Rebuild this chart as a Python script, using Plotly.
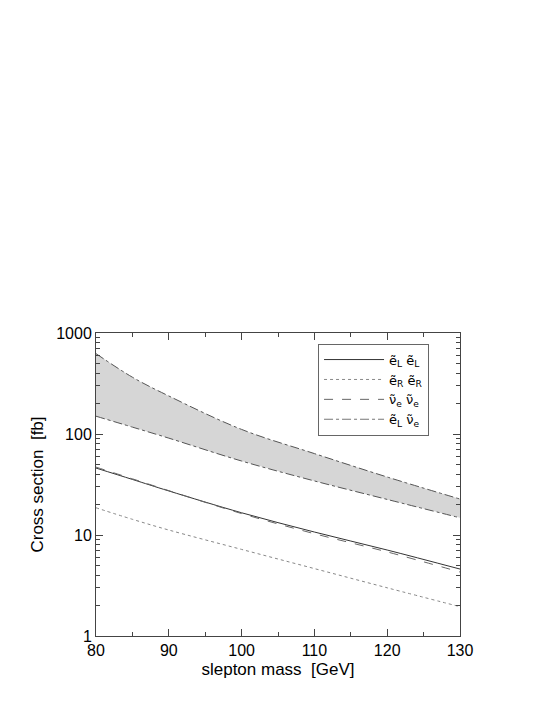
import plotly.graph_objects as go

# slepton mass grid [GeV]
masses = [80, 85, 90, 100, 110, 120, 130]

# cross sections [fb]
eL_eL = [46.0, 35.5, 27.3, 16.6, 10.7, 7.1, 4.6]
eR_eR = [18.6, 14.3, 11.2, 7.2, 4.65, 3.0, 1.95]
nu_nu = [47.0, 36.0, 27.5, 16.3, 10.3, 6.8, 4.3]
eL_nu_low = [150.0, 117.0, 91.0, 54.0, 34.3, 22.5, 14.8]
eL_nu_high = [625.0, 365.0, 238.0, 111.0, 64.0, 37.5, 22.7]

x_ticks = [80, 90, 100, 110, 120, 130]
y_ticks = [1, 10, 100, 1000]

fig = go.Figure()

# shaded band for eL nu_e, drawn with dash-dot edges
fig.add_trace(go.Scatter(
    x=masses, y=eL_nu_low, mode='lines', line_shape='spline',
    line=dict(color='#555555', width=1, dash='dashdot'),
    showlegend=False, hoverinfo='skip'
))
fig.add_trace(go.Scatter(
    x=masses, y=eL_nu_high, mode='lines', line_shape='spline',
    line=dict(color='#555555', width=1, dash='dashdot'),
    fill='tonexty', fillcolor='#d6d6d6',
    showlegend=False, hoverinfo='skip'
))

fig.add_trace(go.Scatter(
    x=masses, y=eL_eL, mode='lines', line_shape='spline',
    name='ẽ<sub>L</sub> ẽ<sub>L</sub>',
    line=dict(color='#333333', width=1)
))
fig.add_trace(go.Scatter(
    x=masses, y=eR_eR, mode='lines', line_shape='spline',
    name='ẽ<sub>R</sub> ẽ<sub>R</sub>',
    line=dict(color='#888888', width=1, dash='dot')
))
fig.add_trace(go.Scatter(
    x=masses, y=nu_nu, mode='lines', line_shape='spline',
    name='ν̃<sub>e</sub> ν̃<sub>e</sub>',
    line=dict(color='#666666', width=1, dash='dash')
))
# legend entry only for the dash-dot band edges
fig.add_trace(go.Scatter(
    x=[None], y=[None], mode='lines',
    name='ẽ<sub>L</sub> ν̃<sub>e</sub>',
    line=dict(color='#777777', width=1, dash='dashdot')
))

axis_common = dict(
    showline=True, linecolor='#444444', linewidth=1, mirror='ticks',
    ticks='inside', ticklen=7, tickcolor='#444444',
    showgrid=False, zeroline=False,
    tickfont=dict(family='Liberation Sans, Arial, sans-serif', size=16, color='black'),
)

fig.update_xaxes(
    range=[80, 130], tickvals=x_ticks,
    title=dict(text='slepton mass  [GeV]', standoff=4,
               font=dict(family='Liberation Sans, Arial, sans-serif', size=17, color='black')),
    minor=dict(ticks='inside', ticklen=4, dtick=5, tickcolor='#444444', showgrid=False),
    **axis_common
)
fig.update_yaxes(
    type='log', range=[0, 3], tickvals=y_ticks,
    title=dict(text='Cross section  [fb]', standoff=8,
               font=dict(family='Liberation Sans, Arial, sans-serif', size=17, color='black')),
    minor=dict(ticks='inside', ticklen=4, dtick='D1', tickcolor='#444444', showgrid=False),
    **axis_common
)

fig.update_layout(
    width=554, height=717,
    margin=dict(l=88, r=102, t=325, b=89),
    plot_bgcolor='white', paper_bgcolor='white',
    legend=dict(
        x=0.61, y=0.965, xanchor='left', yanchor='top',
        traceorder='normal',
        bgcolor='white', bordercolor='#666666', borderwidth=1,
        font=dict(family='DejaVu Sans, sans-serif', size=13, color='black'),
        itemwidth=60, tracegroupgap=0,
    ),
)

fig.write_html("out.html")
